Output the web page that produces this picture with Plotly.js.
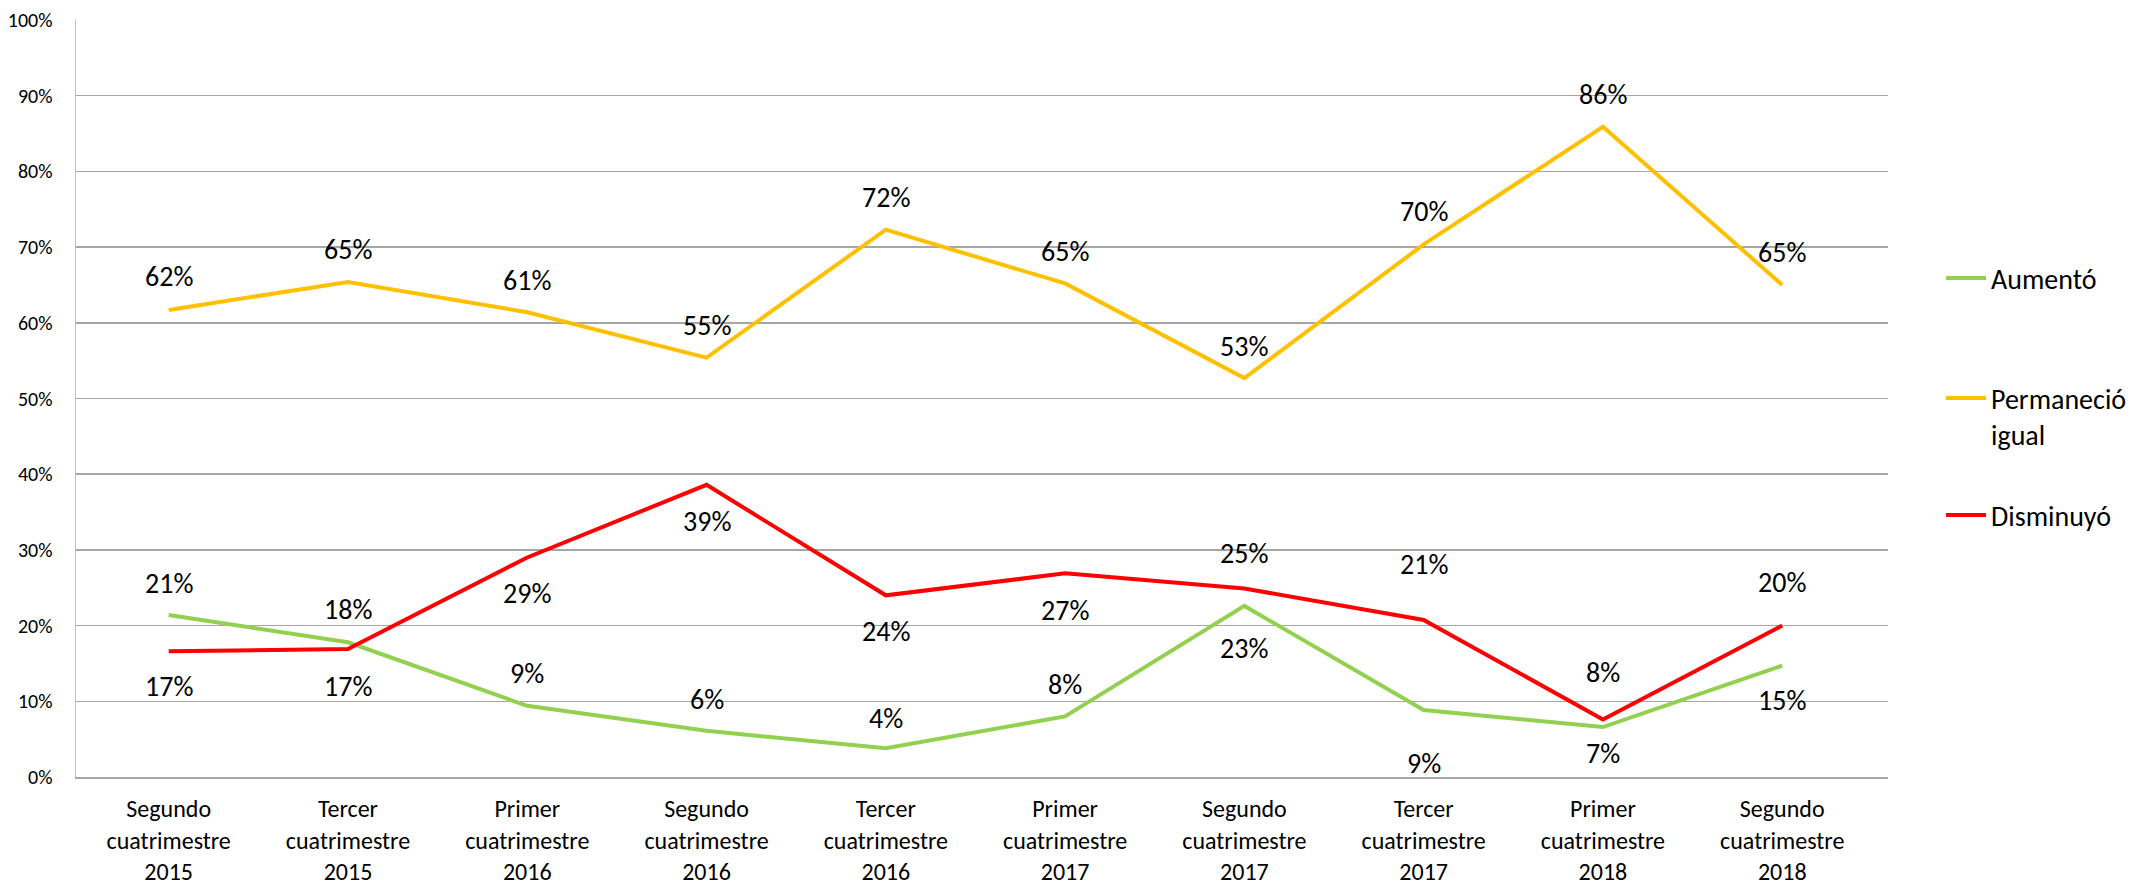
<!DOCTYPE html>
<html>
<head>
<meta charset="utf-8">
<script src="https://cdn.plot.ly/plotly-3.0.1.min.js"></script>
<style>
  html, body { margin: 0; padding: 0; background: #ffffff; }
  #chart { width: 2133px; height: 888px; }
</style>
</head>
<body>
<div id="chart"></div>
<script>
// ---- Data ----
const categories = [
  'Segundo<br>cuatrimestre<br>2015',
  'Tercer<br>cuatrimestre<br>2015',
  'Primer<br>cuatrimestre<br>2016',
  'Segundo<br>cuatrimestre<br>2016',
  'Tercer<br>cuatrimestre<br>2016',
  'Primer<br>cuatrimestre<br>2017',
  'Segundo<br>cuatrimestre<br>2017',
  'Tercer<br>cuatrimestre<br>2017',
  'Primer<br>cuatrimestre<br>2018',
  'Segundo<br>cuatrimestre<br>2018'
];
const aumento      = [0.214, 0.178, 0.094, 0.061, 0.038, 0.080, 0.226, 0.0885, 0.066, 0.147];
const permanecio   = [0.617, 0.654, 0.614, 0.554, 0.723, 0.652, 0.527, 0.7035, 0.859, 0.650];
const disminuyo    = [0.166, 0.169, 0.290, 0.386, 0.240, 0.269, 0.249, 0.2075, 0.076, 0.200];
const seriesNames  = ['Aumentó', 'Permaneció<br>igual', 'Disminuyó'];

// ---- Label placement (layout only, pixels; positive = above the point) ----
const aumentoLabelShift    = [32, 33, 32, 31, 30, 32, -43, -53, -26, -35];
const permanecioLabelShift = [33, 32, 32, 32, 32, 32, 32, 33, 32, 32];
const disminuyoLabelShift  = [-35, -37, -36, -37, -36, -37, 35, 55, 47, 43];

// legend vertical centres (container fraction from bottom)
const legendY = [0.6866, 0.5313, 0.4197];

const FONT = 'Carlito, Calibri, "Liberation Sans", sans-serif';
const colors = ['#92D050', '#FFC000', '#FF0000'];
const seriesValues = [aumento, permanecio, disminuyo];
const shifts = [aumentoLabelShift, permanecioLabelShift, disminuyoLabelShift];
const legendIds = ['legend', 'legend2', 'legend3'];

const traces = seriesValues.map((vals, i) => ({
  type: 'scatter',
  mode: 'lines',
  x: categories,
  y: vals,
  name: seriesNames[i],
  legend: legendIds[i],
  line: { color: colors[i], width: 4 },
  hoverinfo: 'skip'
}));

const annotations = [];
seriesValues.forEach((vals, i) => {
  vals.forEach((v, j) => {
    annotations.push({
      x: categories[j],
      y: v,
      xref: 'x', yref: 'y',
      text: Math.round(v * 100) + '%',
      showarrow: false,
      yshift: shifts[i][j],
      font: { family: FONT, size: 28, color: '#000000' }
    });
  });
});

function legendSpec(i) {
  return {
    xref: 'container',
    yref: 'container',
    x: 0.910,
    xanchor: 'left',
    y: legendY[i],
    yanchor: 'middle',
    valign: 'top',
    font: { family: FONT, size: 28, color: '#000000' },
    itemwidth: 40,
    bgcolor: 'rgba(0,0,0,0)'
  };
}

const layout = {
  width: 2133,
  height: 888,
  margin: { l: 76, r: 245, t: 20, b: 111 },
  paper_bgcolor: '#ffffff',
  plot_bgcolor: '#ffffff',
  font: { family: FONT, color: '#000000' },
  xaxis: {
    type: 'category',
    categoryorder: 'array',
    categoryarray: categories,
    range: [-0.517, 9.59],
    showgrid: false,
    showline: true,
    linecolor: '#a6a6a6',
    linewidth: 1.5,
    ticks: '',
    tickfont: { family: FONT, size: 24, color: '#000000' },
    ticklabelstandoff: 10,
    fixedrange: true
  },
  yaxis: {
    range: [0, 1],
    dtick: 0.1,
    tick0: 0,
    tickformat: '.0%',
    showgrid: true,
    gridcolor: '#a6a6a6',
    gridwidth: 1.5,
    zeroline: false,
    showline: true,
    linecolor: '#bfbfbf',
    linewidth: 1.5,
    ticks: '',
    tickfont: { family: FONT, size: 20, color: '#000000' },
    ticklabelstandoff: 18,
    fixedrange: true
  },
  showlegend: true,
  legend: legendSpec(0),
  legend2: legendSpec(1),
  legend3: legendSpec(2),
  annotations: annotations
};

Plotly.newPlot('chart', traces, layout, { displayModeBar: false, staticPlot: true });
</script>
</body>
</html>
